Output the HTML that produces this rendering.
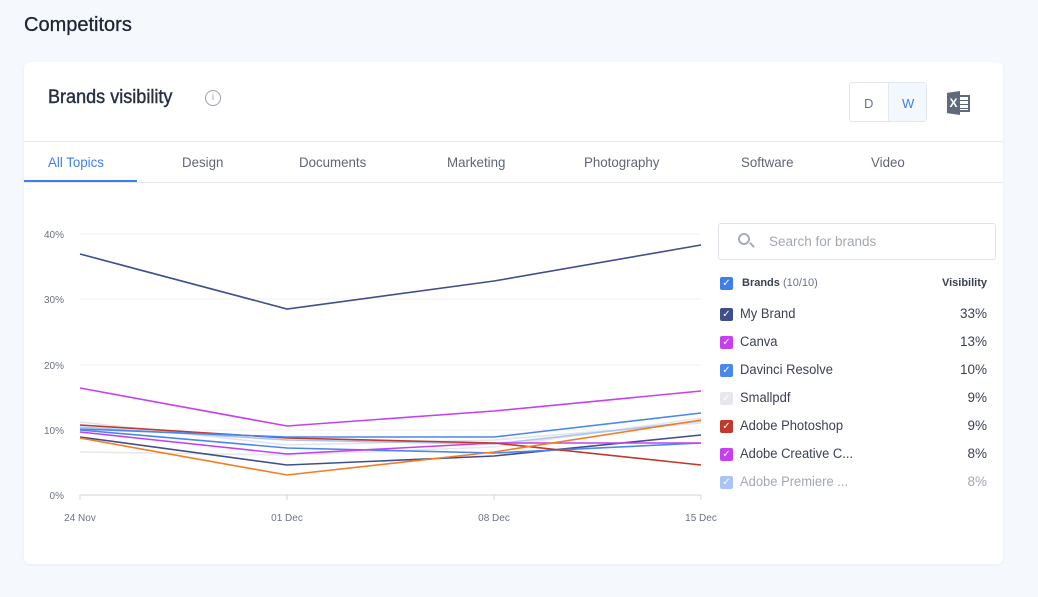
<!DOCTYPE html>
<html><head><meta charset="utf-8"><style>
*{box-sizing:border-box;margin:0;padding:0}
body{width:1038px;height:597px;background:#f5f8fc;font-family:"Liberation Sans",sans-serif;position:relative;overflow:hidden;color:#2b3245}
.abs{position:absolute}
.card{position:absolute;left:24px;top:62px;width:979px;height:502px;background:#fff;border-radius:6px;box-shadow:0 1px 3px rgba(0,0,0,.06)}
.tab{position:absolute;top:154px;font-size:14px;color:#5f6677;transform:scaleX(.95);transform-origin:left}
.leg{position:absolute;left:740px;font-size:13.5px;color:#3a4153;transform:scaleX(.96);transform-origin:left}
.cb{position:absolute;left:720px;width:13px;height:13px;border-radius:2px;color:#fff;font-size:10px;line-height:13px;text-align:center}
.pct{position:absolute;right:51px;font-size:13.5px;color:#3a4153}
</style></head><body>
<div class="abs" style="left:24px;top:14px;font-size:20px;color:#1f2433;-webkit-text-stroke:.3px #1f2433">Competitors</div>
<div class="card"></div>
<div class="abs" style="left:48px;top:87px;font-size:19px;color:#263043;-webkit-text-stroke:.4px #263043;transform:scaleX(.95);transform-origin:left">Brands visibility</div>
<div class="abs" style="left:205px;top:90px;width:16px;height:16px;border:1.5px solid #9aa0aa;border-radius:50%;font-size:10px;color:#9aa0aa;text-align:center;line-height:13px">i</div>
<div class="abs" style="left:849px;top:82px;width:78px;height:40px;border:1px solid #e3e7ee;border-radius:3px"></div>
<div class="abs" style="left:888px;top:83px;width:38px;height:38px;background:#f3f7fe;border-left:1px solid #e3e7ee"></div>
<div class="abs" style="left:864px;top:96px;font-size:13px;color:#6a7690">D</div>
<div class="abs" style="left:902px;top:96px;font-size:13px;color:#3f7ef0">W</div>
<div class="abs" style="left:956px;top:95px;width:14px;height:17px;border:2px solid #5f6a7d;border-left:none;background:repeating-linear-gradient(#fff 0 3px,#5f6a7d 3px 4px)"></div>
<div class="abs" style="left:947px;top:91px;width:13px;height:24px;background:#5f6a7d;color:#fff;font-size:12px;font-weight:bold;text-align:center;line-height:24px;clip-path:polygon(0 8%,100% 0,100% 100%,0 92%)">X</div>
<div class="abs" style="left:24px;top:141px;width:979px;height:1px;background:#e6e9ee"></div>
<div class="abs" style="left:24px;top:182px;width:979px;height:1px;background:#e6e9ee"></div>
<div class="abs" style="left:24px;top:180px;width:113px;height:2px;background:#3f7ef0"></div>
<div class="tab" style="left:48px;color:#3f7ef0">All Topics</div>
<div class="tab" style="left:182px">Design</div>
<div class="tab" style="left:299px">Documents</div>
<div class="tab" style="left:447px">Marketing</div>
<div class="tab" style="left:584px">Photography</div>
<div class="tab" style="left:741px">Software</div>
<div class="tab" style="left:871px">Video</div>
<svg class="abs" style="left:0;top:0" width="1038" height="597">
<g stroke="#f0f2f5" stroke-width="1"><line x1="80" x2="701" y1="234" y2="234"/><line x1="80" x2="701" y1="299" y2="299"/><line x1="80" x2="701" y1="365" y2="365"/><line x1="80" x2="701" y1="430" y2="430"/></g>
<line x1="80" x2="701" y1="495" y2="495" stroke="#cfd3da"/>
<g stroke="#cfd3da"><line x1="80" x2="80" y1="495" y2="500"/><line x1="287" x2="287" y1="495" y2="500"/><line x1="494" x2="494" y1="495" y2="500"/><line x1="701" x2="701" y1="495" y2="500"/></g>
<g font-size="10" fill="#6a7282" font-family="Liberation Sans" text-anchor="end">
<text x="64" y="238">40%</text><text x="64" y="303">30%</text><text x="64" y="369">20%</text><text x="64" y="434">10%</text><text x="64" y="499">0%</text></g>
<g font-size="10" fill="#6a7282" font-family="Liberation Sans" text-anchor="middle">
<text x="80" y="521">24 Nov</text><text x="287" y="521">01 Dec</text><text x="494" y="521">08 Dec</text><text x="701" y="521">15 Dec</text></g>
<g fill="none" stroke-width="1.6">
<polyline stroke="#e6e8ec" points="80,452 287,455 494,447 701,418"/>
<polyline stroke="#e1e4ea" points="80,422 287,445 494,440 701,423"/>
<polyline stroke="#a9c4f5" points="80,427 287,440 494,444 701,421"/>
<polyline stroke="#3f4f8c" points="80,437 287,465 494,456 701,435"/>
<polyline stroke="#4a86f0" points="80,430 287,448 494,453 701,443"/>
<polyline stroke="#c640f0" points="80,432 287,454 494,443 701,443"/>
<polyline stroke="#c0392b" points="80,425 287,438 494,443 701,465"/>
<polyline stroke="#f57c20" points="80,438 287,475 494,452 701,420"/>
<polyline stroke="#4a86f0" points="80,429 287,437 494,437 701,413"/>
<polyline stroke="#c640f0" points="80,388 287,426 494,411 701,391"/>
<polyline stroke="#3f4f8c" points="80,254 287,309 494,281 701,245"/>
</g></svg>
<div class="abs" style="left:718px;top:223px;width:278px;height:37px;border:1px solid #dfe3e9;border-radius:3px"></div>
<div class="abs" style="left:738px;top:233px;width:12px;height:12px;border:2px solid #a6adb8;border-radius:50%"></div>
<div class="abs" style="left:749px;top:244px;width:6px;height:2px;background:#a6adb8;transform:rotate(45deg)"></div>
<div class="abs" style="left:769px;top:234px;font-size:13.5px;color:#a2a8b3">Search for brands</div>
<div class="cb" style="top:277px;background:#3f7ef0">✓</div>
<div class="abs" style="left:742px;top:277px;font-size:11px;font-weight:bold;color:#3a4153">Brands <span style="font-weight:normal;color:#6a7282">(10/10)</span></div>
<div class="abs" style="right:51px;top:277px;font-size:11px;font-weight:bold;color:#3a4153">Visibility</div>
<div class="cb" style="top:308px;background:#3f4f8c">✓</div><div class="leg" style="top:306px">My Brand</div><div class="pct" style="top:306px">33%</div>
<div class="cb" style="top:336px;background:#c640f0">✓</div><div class="leg" style="top:334px">Canva</div><div class="pct" style="top:334px">13%</div>
<div class="cb" style="top:364px;background:#4a86f0">✓</div><div class="leg" style="top:362px">Davinci Resolve</div><div class="pct" style="top:362px">10%</div>
<div class="cb" style="top:392px;background:#e6e8ec">✓</div><div class="leg" style="top:390px">Smallpdf</div><div class="pct" style="top:390px">9%</div>
<div class="cb" style="top:420px;background:#c0392b">✓</div><div class="leg" style="top:418px">Adobe Photoshop</div><div class="pct" style="top:418px">9%</div>
<div class="cb" style="top:448px;background:#c640f0">✓</div><div class="leg" style="top:446px">Adobe Creative C...</div><div class="pct" style="top:446px">8%</div>
<div class="cb" style="top:476px;background:#a9c4f5">✓</div><div class="leg" style="top:474px;color:#a2a8b3">Adobe Premiere ...</div><div class="pct" style="top:474px;color:#a2a8b3">8%</div>
</body></html>
